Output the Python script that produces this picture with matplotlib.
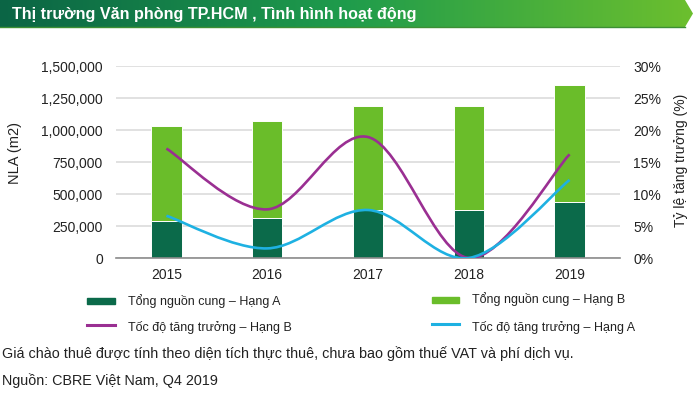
import numpy as np
import matplotlib.pyplot as plt
from matplotlib.path import Path
from matplotlib.patches import PathPatch, Polygon, Rectangle
from matplotlib.colors import LinearSegmentedColormap
from matplotlib.ticker import FuncFormatter, MultipleLocator

plt.rcParams['font.family'] = ['Liberation Sans', 'DejaVu Sans']

years = ['2015', '2016', '2017', '2018', '2019']
supply_a = [290000, 315000, 376000, 376000, 440000]   # Tổng nguồn cung – Hạng A
supply_b = [743000, 752000, 808000, 808000, 911000]   # Tổng nguồn cung – Hạng B
growth_b = [17.1, 7.6, 18.9, 0.0, 16.2]               # Tốc độ tăng trưởng – Hạng B (%)
growth_a = [6.6, 1.5, 7.5, 0.0, 12.2]                 # Tốc độ tăng trưởng – Hạng A (%)

c_dark = '#0b6a4a'
c_light = '#6abd2a'
c_purple = '#9a2f92'
c_blue = '#1eb1e2'


def smooth_path(x, y):
    # excel-like smoothed line (catmull-rom as cubic bezier)
    pts = np.column_stack([x, y]).astype(float)
    n = len(pts)
    verts = [pts[0]]
    codes = [Path.MOVETO]
    for i in range(n - 1):
        p0 = pts[i - 1] if i > 0 else pts[i]
        p3 = pts[i + 2] if i + 2 < n else pts[i + 1]
        verts += [pts[i] + (pts[i + 1] - p0) / 6, pts[i + 1] - (p3 - pts[i]) / 6, pts[i + 1]]
        codes += [Path.CURVE4] * 3
    return Path(verts, codes)


W, H = 698, 393
fig = plt.figure(figsize=(W / 100, H / 100), dpi=100)

ax = fig.add_axes([116 / W, 1 - 258 / H, 504 / W, 192 / H])
ax.set_facecolor('none')
x = np.arange(len(years))
ax.bar(x, supply_a, width=0.3, color=c_dark, edgecolor='white', linewidth=0.7, zorder=2)
ax.bar(x, supply_b, width=0.3, bottom=supply_a, color=c_light, edgecolor='white', linewidth=0.7, zorder=2)
ax.set_xlim(-0.5, 4.5)
ax.set_ylim(0, 1500000)
ax.yaxis.set_major_locator(MultipleLocator(250000))
ax.yaxis.set_major_formatter(FuncFormatter(lambda v, p: f'{int(v):,}'))
ax.set_xticks(x)
ax.set_xticklabels(years)
ax.grid(axis='y', color='#dcdcdc', linewidth=1.2, zorder=0)
ax.set_axisbelow(True)
for s in ['top', 'left', 'right']:
    ax.spines[s].set_visible(False)
ax.spines['bottom'].set_color('#8c8c8c')
ax.spines['bottom'].set_linewidth(1.2)
ax.tick_params(axis='y', length=0, pad=9.5, labelsize=10, labelcolor='#222222')
ax.tick_params(axis='x', length=0, pad=7, labelsize=10, labelcolor='#222222')

ax2 = ax.twinx()
ax2.set_ylim(0, 30)
ax2.yaxis.set_major_locator(MultipleLocator(5))
ax2.yaxis.set_major_formatter(FuncFormatter(lambda v, p: f'{int(v)}%'))
for s in ['top', 'left', 'right', 'bottom']:
    ax2.spines[s].set_visible(False)
ax2.tick_params(axis='y', length=0, pad=9.5, labelsize=10, labelcolor='#222222')
ax2.add_patch(PathPatch(smooth_path(x, growth_b), fill=False, edgecolor=c_purple, linewidth=1.9, zorder=3))
ax2.add_patch(PathPatch(smooth_path(x, growth_a), fill=False, edgecolor=c_blue, linewidth=1.9, zorder=3))

fig.text(15 / W, 1 - 153 / H, 'NLA (m2)', rotation=90, ha='center', va='center', fontsize=10.5, color='#222222')
fig.text(681 / W, 1 - 160 / H, 'Tỷ lệ tăng trưởng (%)', rotation=90, ha='center', va='center', fontsize=10, color='#222222')

# overlay in pixel coords for banner, legend, notes
ov = fig.add_axes([0, 0, 1, 1])
ov.set_xlim(0, W)
ov.set_ylim(H, 0)
ov.axis('off')

cmap = LinearSegmentedColormap.from_list('banner', ['#0b6545', '#1f9c4c', '#6cbf2e'])
grad = ov.imshow(np.linspace(0, 1, 256)[None, :], cmap=cmap, aspect='auto', extent=(0, 693, 27, 0))
banner = Polygon([(0, 0), (685, 0), (693, 13.5), (685, 27), (0, 27)], closed=True, facecolor='none', edgecolor='none')
ov.add_patch(banner)
grad.set_clip_path(banner)
ov.plot([0, 685], [27, 27], color='#3d8f34', linewidth=1)
ov.set_xlim(0, W)
ov.set_ylim(H, 0)
ov.text(12, 14, 'Thị trường Văn phòng TP.HCM , Tình hình hoạt động', color='white', fontsize=11.6,
        fontweight='bold', va='center', ha='left')

ov.add_patch(Rectangle((87, 297.5), 28, 6, color=c_dark))
ov.text(128, 301, 'Tổng nguồn cung – Hạng A', fontsize=9, va='center', color='#222222')
ov.plot([87, 115], [324.5, 324.5], color=c_purple, linewidth=2.2)
ov.text(128, 327.5, 'Tốc độ tăng trưởng – Hạng B', fontsize=9, va='center', color='#222222')
ov.add_patch(Rectangle((432, 297), 27, 6, color=c_light))
ov.text(472, 299, 'Tổng nguồn cung – Hạng B', fontsize=9, va='center', color='#222222')
ov.plot([432, 459], [324, 324], color=c_blue, linewidth=2.2)
ov.text(472, 327, 'Tốc độ tăng trưởng – Hạng A', fontsize=9, va='center', color='#222222')

ov.text(2, 354, 'Giá chào thuê được tính theo diện tích thực thuê, chưa bao gồm thuế VAT và phí dịch vụ.',
        fontsize=10.4, va='center', color='#222222')
ov.text(2, 381, 'Nguồn: CBRE Việt Nam, Q4 2019', fontsize=10.4, va='center', color='#222222')

fig.savefig('out.png', dpi=100)
